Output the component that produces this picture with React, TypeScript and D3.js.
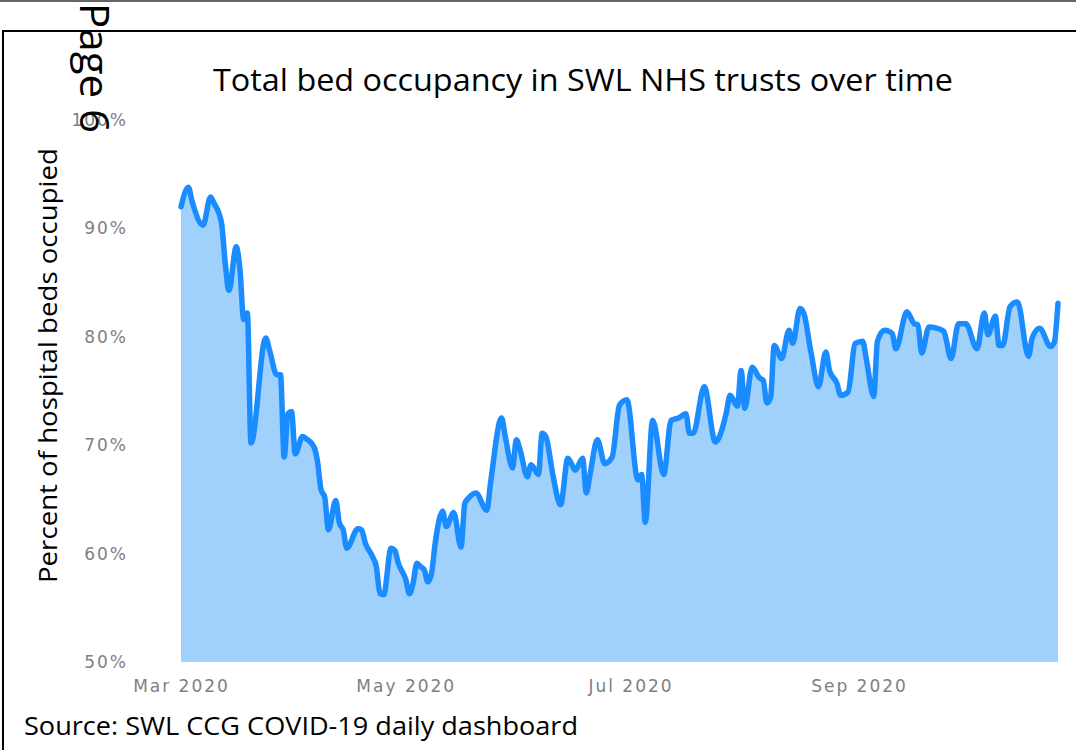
import React, { useEffect, useRef } from 'react';
import * as d3 from 'd3';

const dates = [
  "2020-03-01", "2020-03-03", "2020-03-04", "2020-03-07", "2020-03-09", "2020-03-10", "2020-03-12", "2020-03-13",
  "2020-03-14", "2020-03-16", "2020-03-17", "2020-03-18", "2020-03-19", "2020-03-20", "2020-03-24", "2020-03-25",
  "2020-03-27", "2020-03-28", "2020-03-29", "2020-03-30", "2020-03-31", "2020-04-01", "2020-04-03", "2020-04-04",
  "2020-04-06", "2020-04-07", "2020-04-08", "2020-04-09", "2020-04-10", "2020-04-12", "2020-04-13", "2020-04-14",
  "2020-04-15", "2020-04-18", "2020-04-19", "2020-04-20", "2020-04-22", "2020-04-23", "2020-04-24", "2020-04-25",
  "2020-04-27", "2020-04-28", "2020-04-29", "2020-05-01", "2020-05-02", "2020-05-03", "2020-05-04", "2020-05-05",
  "2020-05-06", "2020-05-07", "2020-05-08", "2020-05-09", "2020-05-11", "2020-05-12", "2020-05-14", "2020-05-16",
  "2020-05-17", "2020-05-18", "2020-05-20", "2020-05-23", "2020-05-24", "2020-05-27", "2020-05-28", "2020-05-30",
  "2020-05-31", "2020-06-01", "2020-06-03", "2020-06-04", "2020-06-06", "2020-06-07", "2020-06-08", "2020-06-10",
  "2020-06-12", "2020-06-14", "2020-06-16", "2020-06-18", "2020-06-19", "2020-06-20", "2020-06-22", "2020-06-24",
  "2020-06-26", "2020-06-28", "2020-06-30", "2020-07-03", "2020-07-04", "2020-07-05", "2020-07-07", "2020-07-10",
  "2020-07-12", "2020-07-14", "2020-07-16", "2020-07-17", "2020-07-18", "2020-07-21", "2020-07-24", "2020-07-25",
  "2020-07-27", "2020-07-28", "2020-07-30", "2020-07-31", "2020-08-01", "2020-08-03", "2020-08-05", "2020-08-06",
  "2020-08-07", "2020-08-08", "2020-08-09", "2020-08-11", "2020-08-13", "2020-08-14", "2020-08-16", "2020-08-17",
  "2020-08-19", "2020-08-21", "2020-08-23", "2020-08-24", "2020-08-26", "2020-08-27", "2020-08-29", "2020-08-31",
  "2020-09-02", "2020-09-03", "2020-09-05", "2020-09-06", "2020-09-08", "2020-09-10", "2020-09-11", "2020-09-14",
  "2020-09-16", "2020-09-17", "2020-09-18", "2020-09-20", "2020-09-22", "2020-09-24", "2020-09-26", "2020-09-28",
  "2020-09-30", "2020-10-03", "2020-10-05", "2020-10-06", "2020-10-08", "2020-10-09", "2020-10-10", "2020-10-12",
  "2020-10-14", "2020-10-17", "2020-10-18", "2020-10-20", "2020-10-23", "2020-10-24", "2020-10-25"
];

const occupancy = [
  92.0, 93.8, 92.5, 90.3, 92.9, 92.3, 90.5, 86.8,
  84.3, 88.3, 86.2, 81.6, 82.2, 70.2, 79.9, 78.8,
  76.5, 76.5, 68.9, 72.9, 73.1, 69.2, 70.8, 70.6,
  69.9, 68.6, 65.9, 65.2, 62.2, 64.9, 62.8, 62.2,
  60.5, 62.3, 62.2, 61.0, 59.7, 58.8, 56.3, 56.2,
  60.5, 60.3, 59.1, 57.6, 56.3, 57.3, 59.1, 58.8,
  58.5, 57.4, 58.2, 61.0, 63.9, 62.5, 63.8, 60.6,
  64.6, 65.1, 65.6, 64.0, 66.5, 72.5, 70.8, 67.9,
  70.5, 69.6, 67.1, 68.2, 67.3, 71.1, 70.8, 67.1,
  64.5, 68.8, 67.7, 68.8, 65.6, 67.3, 70.5, 68.3,
  68.9, 73.7, 74.2, 66.8, 67.3, 62.9, 72.3, 67.3,
  72.3, 72.5, 72.9, 71.1, 71.1, 75.4, 70.3, 70.7,
  73.0, 74.6, 73.6, 76.9, 73.4, 77.2, 76.2, 76.0,
  73.9, 74.4, 79.2, 78.0, 80.6, 79.4, 82.6, 82.2,
  78.5, 75.4, 78.6, 76.9, 75.7, 74.6, 74.9, 79.4,
  79.6, 77.9, 74.5, 79.6, 80.6, 80.3, 78.9, 82.3,
  81.2, 81.1, 78.5, 80.9, 80.8, 80.5, 78.0, 81.2,
  81.2, 78.9, 82.2, 80.2, 81.9, 79.2, 79.2, 82.8,
  83.2, 78.2, 79.9, 80.8, 79.1, 79.5, 83.1
];

const yTicks = [50, 60, 70, 80, 90, 100];
const xTicks = ["2020-03-01", "2020-05-01", "2020-07-01", "2020-09-01"];

const W = 1076;
const H = 750;

export default function App() {
  const ref = useRef<SVGSVGElement>(null);

  useEffect(() => {
    const svg = d3.select(ref.current);
    svg.selectAll("*").remove();

    const parse = d3.timeParse("%Y-%m-%d");
    const data = dates.map((d, i) => ({ date: parse(d) as Date, value: occupancy[i] }));

    const x = d3.scaleTime()
      .domain([parse("2020-03-01") as Date, parse("2020-09-01") as Date])
      .range([181, 859]);
    const y = d3.scaleLinear().domain([50, 100]).range([662, 120]);

    // page frame
    svg.append("line").attr("x1", 0).attr("x2", W).attr("y1", 1).attr("y2", 1)
      .attr("stroke", "#666").attr("stroke-width", 2);
    svg.append("path").attr("d", `M3,${H} L3,31 L${W},31`)
      .attr("fill", "none").attr("stroke", "#000").attr("stroke-width", 2);

    // area + line
    const area = d3.area<any>()
      .x(d => x(d.date)).y0(y(50)).y1(d => y(d.value))
      .curve(d3.curveMonotoneX);
    const line = d3.line<any>()
      .x(d => x(d.date)).y(d => y(d.value))
      .curve(d3.curveMonotoneX);

    svg.append("path").datum(data).attr("d", area).attr("fill", "#a0d1fb");
    svg.append("path").datum(data).attr("d", line)
      .attr("fill", "none").attr("stroke", "#1a8cff").attr("stroke-width", 5.5)
      .attr("stroke-linejoin", "round").attr("stroke-linecap", "round");

    // axes
    const yAxis = svg.append("g").attr("transform", "translate(128,0)")
      .call(d3.axisLeft(y).tickValues(yTicks).tickFormat(d => `${d}%`).tickSize(0).tickPadding(0));
    yAxis.select(".domain").remove();
    yAxis.selectAll("text")
      .attr("fill", "#808080").attr("font-size", 17).attr("letter-spacing", 2)
      .attr("font-family", "DejaVu Sans");

    const xAxis = svg.append("g").attr("transform", `translate(0,${y(50)})`)
      .call(d3.axisBottom(x).tickValues(xTicks.map(d => parse(d) as Date))
        .tickFormat(d => d3.timeFormat("%b %Y")(d as Date)).tickSize(0).tickPadding(18));
    xAxis.select(".domain").remove();
    xAxis.selectAll("text")
      .attr("fill", "#808080").attr("font-size", 17).attr("letter-spacing", 2)
      .attr("font-family", "DejaVu Sans");

    // texts
    svg.append("text").attr("x", 213).attr("y", 91)
      .attr("font-family", "Open Sans").attr("font-size", 31)
      .attr("textLength", 740).attr("lengthAdjust", "spacingAndGlyphs")
      .text("Total bed occupancy in SWL NHS trusts over time");

    svg.append("text").attr("transform", "translate(57,583) rotate(-90)")
      .attr("font-family", "Open Sans").attr("font-size", 25)
      .attr("textLength", 435).attr("lengthAdjust", "spacingAndGlyphs")
      .text("Percent of hospital beds occupied");

    svg.append("text").attr("x", 24).attr("y", 735)
      .attr("font-family", "Open Sans").attr("font-size", 25)
      .attr("textLength", 554).attr("lengthAdjust", "spacingAndGlyphs")
      .text("Source: SWL CCG COVID-19 daily dashboard");

    svg.append("text").attr("transform", "translate(80,3) rotate(90)")
      .attr("font-family", "Open Sans").attr("font-size", 40)
      .attr("textLength", 130).attr("lengthAdjust", "spacingAndGlyphs")
      .text("Page 6");
  }, []);

  return (
    <svg ref={ref} width={W} height={H}
      style={{ position: 'absolute', left: 0, top: 0, background: '#fff', display: 'block' }} />
  );
}
